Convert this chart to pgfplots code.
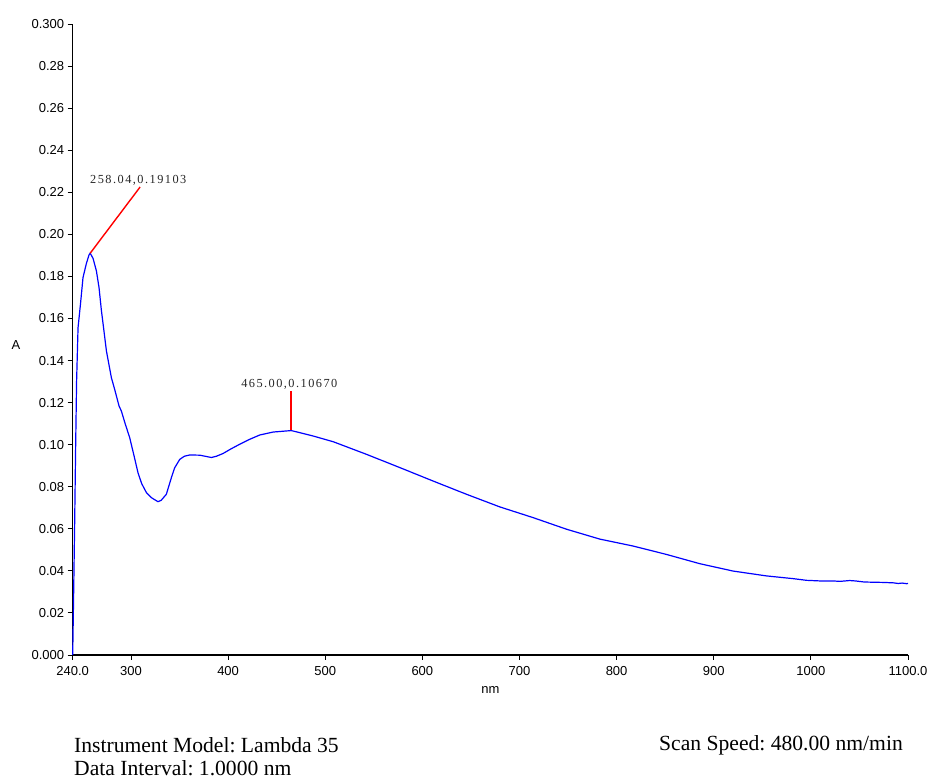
\documentclass[border=0pt]{standalone}
\usepackage{pgfplots}
\pgfplotsset{compat=1.18}
\usepackage{fontspec}
\setmainfont{Liberation Serif}
\newfontfamily\arial{Liberation Sans}
\newfontfamily\annfont[LetterSpace=12]{Liberation Serif}
\frenchspacing
\begin{document}
\begin{tikzpicture}
\useasboundingbox (0,0) rectangle (929pt,779pt);
\begin{axis}[
  at={(72.7pt,124pt)}, anchor=south west,
  scale only axis, width=835.3pt, height=631pt,
  xmin=240, xmax=1100, ymin=0, ymax=0.3,
  axis x line=bottom, axis y line=left,
  axis line style={-, line width=1.1pt, black},
  tick align=outside, major tick length=5pt,
  tick style={black, line width=0.9pt},
  xtick={240,300,400,500,600,700,800,900,1000,1100},
  xticklabels={240.0,300,400,500,600,700,800,900,1000,1100.0},
  ytick={0,0.02,0.04,0.06,0.08,0.10,0.12,0.14,0.16,0.18,0.20,0.22,0.24,0.26,0.28,0.30},
  yticklabels={0.000,0.02,0.04,0.06,0.08,0.10,0.12,0.14,0.16,0.18,0.20,0.22,0.24,0.26,0.28,0.300},
  ticklabel style={font=\arial\fontsize{13}{13}\selectfont},
  xticklabel style={yshift=-3pt},
  /pgf/number format/assume math mode=true,
  xlabel={nm}, ylabel={A},
  xlabel style={font=\arial\fontsize{13}{13}\selectfont, at={(axis description cs:0.5,-0.0555)}, anchor=center},
  ylabel style={font=\arial\fontsize{13}{13}\selectfont, rotate=-90, at={(axis description cs:-0.068,0.491)}, anchor=center},
  clip=false,
]
\addplot[blue, line width=1.2pt] coordinates {
(240,0.000) (241,0.030) (242,0.062) (243,0.098) (244,0.130) (245.5,0.1556)
(248,0.1668) (250.6,0.1794) (254,0.186) (256.8,0.1902) (258.04,0.19103)
(261,0.1885) (264.4,0.1826) (267.1,0.1747) (269.5,0.1640) (273,0.151)
(274.7,0.1446) (279.8,0.1319) (283.2,0.1263) (287.7,0.1184) (290.1,0.116)
(294,0.110) (298.7,0.1033) (303,0.095) (307.2,0.0867) (311,0.0815)
(315.9,0.0772) (321,0.0748) (327.8,0.0729) (331,0.0735) (336.4,0.0764)
(341.6,0.0843) (345,0.0890) (350.2,0.0930) (355,0.0945) (360.5,0.0951)
(370.8,0.0950) (382.8,0.0939) (388,0.0945) (394.8,0.0958) (403,0.0980)
(412,0.1002) (422,0.1025) (432.6,0.1046) (446.4,0.1060) (465,0.1067)
(473.8,0.1057) (487.6,0.1041) (508.2,0.1014) (542.5,0.0954) (576.8,0.0891)
(611.1,0.0827) (645.5,0.0764) (679.8,0.0704) (714.1,0.0653) (748.4,0.0598)
(782.7,0.0551) (817,0.0518) (851.4,0.0478) (885.7,0.0434) (920,0.0399)
(954.3,0.0376) (981.8,0.0363) (995.5,0.0355) (1010,0.0352) (1023,0.0352)
(1030,0.0350) (1040,0.0354) (1046,0.0352) (1055,0.0347) (1064.2,0.0346)
(1075,0.0345) (1085,0.0343) (1090,0.0340) (1094,0.0342) (1098.6,0.0339) (1100,0.0340)
};
\addplot[red, line width=1.4pt] coordinates {(258.04,0.19103) (309.4,0.2225)};
\addplot[red, line width=1.6pt] coordinates {(465,0.1069) (465,0.1257)};
\node[font=\annfont\fontsize{12.3}{12.3}\selectfont, text=black!85] at (axis cs:307.5,0.2258) {258.04,0.19103};
\node[font=\annfont\fontsize{12.3}{12.3}\selectfont, text=black!85] at (axis cs:463,0.1288) {465.00,0.10670};
\end{axis}
\node[anchor=west, inner sep=0pt, font=\fontsize{21.6}{21.6}\selectfont] at (74pt,34pt) {Instrument Model: Lambda 35};
\node[anchor=west, inner sep=0pt, font=\fontsize{21.6}{21.6}\selectfont] at (74pt,11pt) {Data Interval: 1.0000 nm};
\node[anchor=east, inner sep=0pt, font=\fontsize{21.6}{21.6}\selectfont] at (903pt,34pt) {Scan Speed: 480.00 nm/min};
\end{tikzpicture}
\end{document}
